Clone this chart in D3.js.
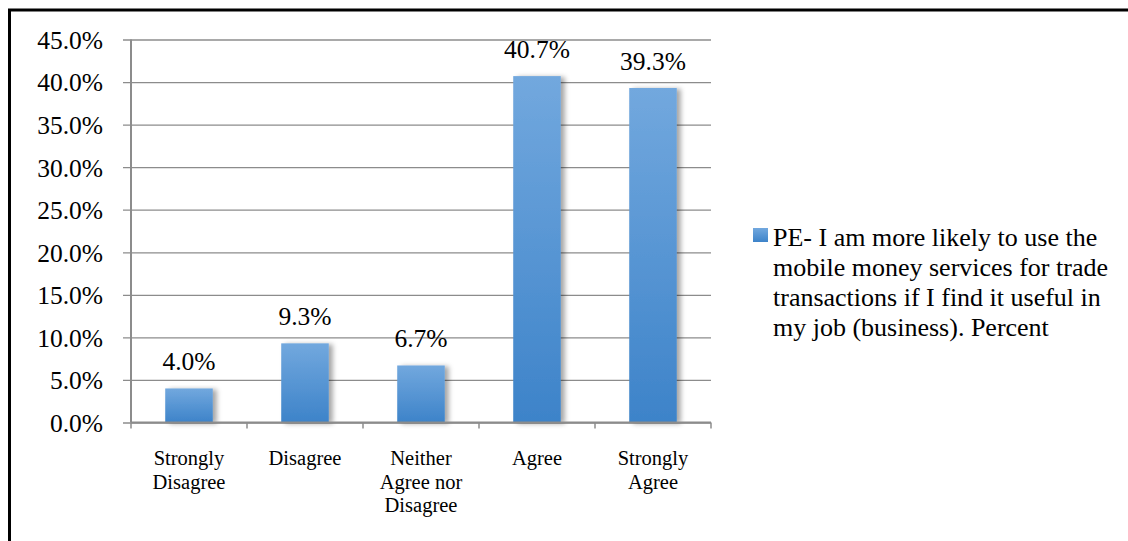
<!DOCTYPE html>
<html>
<head>
<meta charset="utf-8">
<script src="https://cdn.jsdelivr.net/npm/d3@7"></script>
<style>
  html, body { margin: 0; padding: 0; background: #fff; }
  svg { display: block; }
  svg text { font-family: "Liberation Serif", serif; }
</style>
</head>
<body>
<svg id="chart" width="1128" height="541"></svg>
<script>
// Survey responses, percent of respondents
const categories = ["Strongly Disagree", "Disagree", "Neither Agree nor Disagree", "Agree", "Strongly Agree"];
const categoryLines = [["Strongly", "Disagree"], ["Disagree"], ["Neither", "Agree nor", "Disagree"], ["Agree"], ["Strongly", "Agree"]];
const values = [4.0, 9.3, 6.7, 40.7, 39.3];
const yTicks = [0, 5, 10, 15, 20, 25, 30, 35, 40, 45];
const seriesName = ["PE- I am more likely to use the", "mobile money services for trade", "transactions if I find it useful in", "my job (business). Percent"];

const FONT = "Liberation Serif";
const svg = d3.select("#chart");

// outer frame (runs off the right and bottom edges)
svg.append("rect")
  .attr("x", 9.5).attr("y", 10)
  .attr("width", 1140).attr("height", 560)
  .attr("fill", "none").attr("stroke", "#000").attr("stroke-width", 3);

const plot = { left: 131, right: 711, top: 39.5, bottom: 422.5 };

const x = d3.scaleBand()
  .domain(categories)
  .range([plot.left, plot.right])
  .paddingInner(0.59).paddingOuter(0.295);

const y = d3.scaleLinear().domain([0, 45]).range([plot.bottom, plot.top]);

const defs = svg.append("defs");
const grad = defs.append("linearGradient")
  .attr("id", "barFill").attr("x1", 0).attr("y1", 0).attr("x2", 0).attr("y2", 1);
grad.append("stop").attr("offset", "0%").attr("stop-color", "#72a8de");
grad.append("stop").attr("offset", "100%").attr("stop-color", "#3d83c9");

const shadow = defs.append("filter").attr("id", "barShadow")
  .attr("x", "-20%").attr("y", "-10%").attr("width", "160%").attr("height", "130%");
shadow.append("feDropShadow")
  .attr("dx", 4).attr("dy", 1).attr("stdDeviation", 2.5)
  .attr("flood-color", "#000").attr("flood-opacity", 0.35);

// horizontal gridlines with left tick stubs
const yAxis = d3.axisLeft(y)
  .tickValues(yTicks)
  .tickSize(-(plot.right - plot.left))
  .tickFormat(d => d.toFixed(1) + "%");

const gy = svg.append("g")
  .attr("transform", `translate(${plot.left},0)`)
  .call(yAxis)
  .attr("font-family", FONT);
gy.select(".domain").remove();
gy.selectAll(".tick line")
  .attr("x1", -8)
  .attr("stroke", "#8c8c8c").attr("stroke-width", 1.3);
gy.selectAll(".tick text")
  .attr("x", -28)
  .attr("dy", "0.35em")
  .attr("fill", "#000")
  .attr("font-family", FONT)
  .attr("font-size", 25.5);

// vertical axis line
svg.append("line")
  .attr("x1", plot.left).attr("x2", plot.left)
  .attr("y1", plot.top).attr("y2", plot.bottom)
  .attr("stroke", "#8c8c8c").attr("stroke-width", 2);

// bars
svg.append("g").selectAll("rect")
  .data(values)
  .join("rect")
  .attr("x", (d, i) => x(categories[i]))
  .attr("width", x.bandwidth())
  .attr("y", d => y(d))
  .attr("height", d => y(0) - y(d))
  .attr("fill", "url(#barFill)")
  .attr("filter", "url(#barShadow)");

// category axis
const xAxis = d3.axisBottom(x).tickSize(0).tickFormat("");
const gx = svg.append("g")
  .attr("transform", `translate(0,${plot.bottom})`)
  .call(xAxis);
gx.select(".domain").attr("stroke", "#8c8c8c").attr("stroke-width", 2)
  .attr("d", `M${plot.left},0H${plot.right}`);

const step = x.step();
const boundaries = d3.range(categories.length + 1).map(i => plot.left + i * step);
gx.selectAll(".sep")
  .data(boundaries)
  .join("line")
  .attr("class", "sep")
  .attr("x1", d => d).attr("x2", d => d)
  .attr("y1", 0).attr("y2", 6)
  .attr("stroke", "#8c8c8c").attr("stroke-width", 1.5);

// category labels
const catG = svg.append("g").attr("font-family", FONT).attr("font-size", 20.5);
categories.forEach((c, i) => {
  const t = catG.append("text")
    .attr("x", x(c) + x.bandwidth() / 2)
    .attr("y", 465)
    .attr("text-anchor", "middle");
  categoryLines[i].forEach((ln, j) => {
    t.append("tspan")
      .attr("x", x(c) + x.bandwidth() / 2)
      .attr("dy", j === 0 ? 0 : 23.5)
      .text(ln);
  });
});

// value labels
svg.append("g").attr("font-family", FONT).attr("font-size", 25.5)
  .selectAll("text")
  .data(values)
  .join("text")
  .attr("x", (d, i) => x(categories[i]) + x.bandwidth() / 2)
  .attr("y", d => y(d) - 18)
  .attr("text-anchor", "middle")
  .text(d => d.toFixed(1) + "%");

// legend
const lg = svg.append("g").attr("transform", "translate(753,228)")
  .attr("font-family", FONT).attr("font-size", 26);
lg.append("rect")
  .attr("width", 15).attr("height", 14)
  .attr("fill", "url(#barFill)");
const lt = lg.append("text")
  .attr("x", 20).attr("y", 17.5);
seriesName.forEach((ln, j) => {
  lt.append("tspan").attr("x", 20).attr("dy", j === 0 ? 0 : 30).text(ln);
});
</script>
</body>
</html>
